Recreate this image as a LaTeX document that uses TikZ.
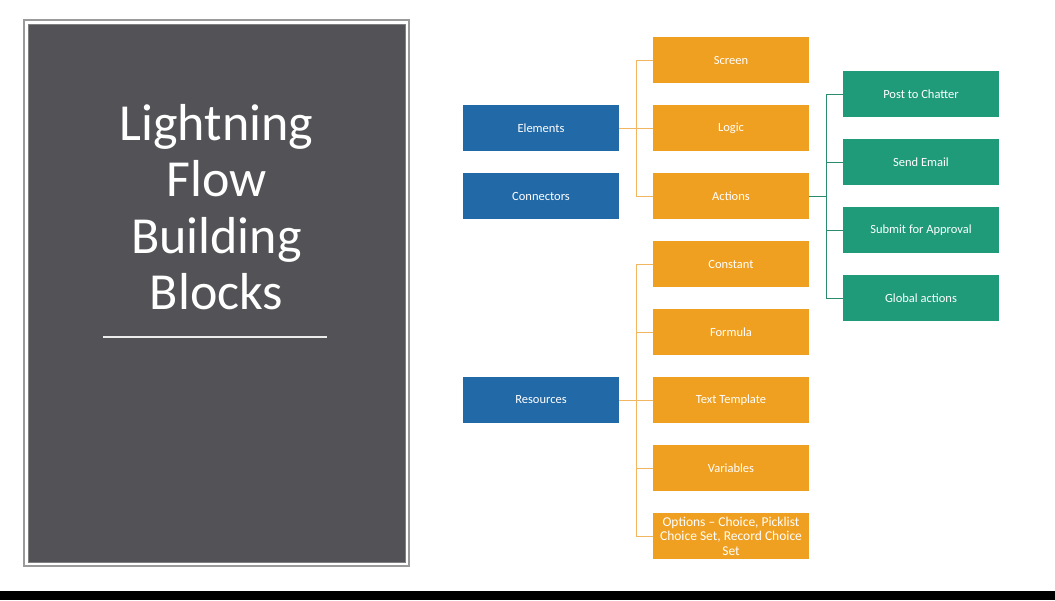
\documentclass[tikz,border=0pt]{standalone}
\usepackage{fontspec}
\setmainfont{Carlito}
\definecolor{blockblue}{HTML}{2269A7}
\definecolor{blockorange}{HTML}{F0A020}
\definecolor{blockgreen}{HTML}{1F9B79}
\definecolor{lineorange}{HTML}{F2B560}
\definecolor{linegreen}{HTML}{2A8C6E}
\definecolor{panelgray}{HTML}{535256}
\definecolor{framegray}{HTML}{9A9A9A}
\begin{document}
\begin{tikzpicture}[x=1pt, y=-1pt,
	box/.style={minimum width=156pt, minimum height=46pt, inner sep=0pt, text=white, align=center, font=\fontsize{12.5}{14}\selectfont},
	bluebox/.style={box, fill=blockblue},
	orangebox/.style={box, fill=blockorange},
	greenbox/.style={box, fill=blockgreen},
	orangeline/.style={draw=lineorange, line width=1pt},
	greenline/.style={draw=linegreen, line width=1pt}]
		\useasboundingbox (0,0) rectangle (1055,600);
		\fill[white] (0,0) rectangle (1055,600);
		\fill[black] (0,591) rectangle (1055,600);

		%Title panel
		\draw[framegray, line width=2pt] (24,20) rectangle (409,566);
		\filldraw[fill=panelgray, draw=gray, line width=0.8pt] (28,24) rectangle (405,562);
		\node[text=white, align=center, font=\fontsize{52}{56.5}\selectfont] (title) at (216.5,207) {Lightning\\Flow\\Building\\Blocks};
		\draw[white!85!gray, line width=1.5pt] (103,337) -- (327,337);

		%Elements, Connectors, Resources
		\node[bluebox] (elem) at (541,128) {Elements};
		\node[bluebox] (conn) at (541,196) {Connectors};
		\node[bluebox] (res) at (541,400) {Resources};

		%Element types
		\foreach \y/\n/\t in {60/screen/Screen, 128/logic/Logic, 196/actions/Actions}{
			\node[orangebox] (\n) at (731,\y) {\t};
		}

		%Resource types
		\foreach \y/\n/\t in {264/constant/Constant, 332/formula/Formula, 400/texttemp/Text Template, 468/variables/Variables}{
			\node[orangebox] (\n) at (731,\y) {\t};
		}
		\node[orangebox, font=\fontsize{13.5}{14.5}\selectfont] (opts) at (731,536) {Options -- Choice, Picklist\\Choice Set, Record Choice\\Set};

		%Action types
		\foreach \y/\n/\t in {94/chatter/Post to Chatter, 162/email/Send Email, 230/approval/Submit for Approval, 298/global/Global actions}{
			\node[greenbox] (\n) at (921,\y) {\t};
		}

		%connectors
		\draw[orangeline] (elem.east) -- ++(17,0) coordinate (ebus);
		\foreach \n in {screen,logic,actions}{
			\draw[orangeline] (ebus) |- (\n.west);
		}
		\draw[orangeline] (res.east) -- ++(17,0) coordinate (rbus);
		\foreach \n in {constant,formula,texttemp,variables,opts}{
			\draw[orangeline] (rbus) |- (\n.west);
		}
		\draw[greenline] (actions.east) -- ++(17,0) coordinate (abus);
		\foreach \n in {chatter,email,approval,global}{
			\draw[greenline] (abus) |- (\n.west);
		}
	\end{tikzpicture}
\end{document}
